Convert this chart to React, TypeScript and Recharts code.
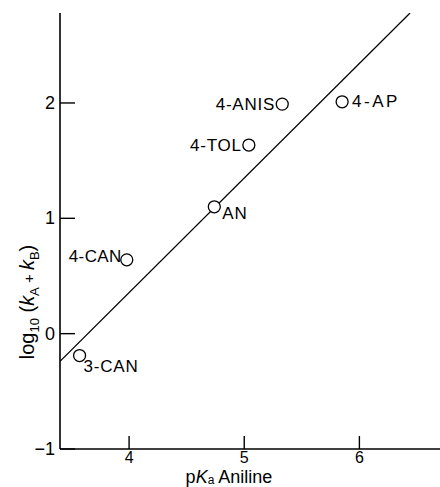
import React from 'react';
import { ComposedChart, XAxis, YAxis, Line, Scatter } from 'recharts';

const compounds = ['4-AP', '4-ANIS', '4-TOL', 'AN', '4-CAN', '3-CAN'];
const pKa = [5.85, 5.33, 5.04, 4.74, 3.98, 3.57];
const logK = [2.01, 1.99, 1.635, 1.1, 0.64, -0.19];
const fitPKa = [3.4, 6.44];
const fitLogK = [-0.24, 2.78];
const xTicks = [4, 5, 6];
const yTicks = [-1, 0, 1, 2];

const points = compounds.map((name, i) => ({ name, x: pKa[i], y: logK[i] }));
const fitLine = fitPKa.map((x, i) => ({ x, y: fitLogK[i] }));

const labelPlacement: Record<string, { dx: number; dy: number; anchor: 'start' | 'end'; ls: number }> = {
  '4-AP': { dx: 10, dy: 0, anchor: 'start', ls: 2.5 },
  '4-ANIS': { dx: -7, dy: 0, anchor: 'end', ls: 0.8 },
  '4-TOL': { dx: -7, dy: 0, anchor: 'end', ls: 0.8 },
  AN: { dx: 8, dy: 7, anchor: 'start', ls: 0.8 },
  '4-CAN': { dx: -5, dy: -3, anchor: 'end', ls: 0.4 },
  '3-CAN': { dx: 4, dy: 11, anchor: 'start', ls: 0.8 },
};

const FONT = '"Liberation Sans", Arial, sans-serif';

const XTick = (props: any) => {
  const { x, y, payload } = props;
  return (
    <g>
      <line x1={x} x2={x} y1={y} y2={y - 13} stroke="#000" strokeWidth={1.4} />
      <text x={x} y={y + 14} textAnchor="middle" fontSize={16} fontFamily={FONT} fill="#000">
        {payload.value}
      </text>
    </g>
  );
};

const YTick = (props: any) => {
  const { x, y, payload } = props;
  const v = payload.value;
  return (
    <g>
      <line x1={x} x2={x + 15} y1={y} y2={y} stroke="#000" strokeWidth={1.4} />
      <text x={x - 5} y={y} textAnchor="end" dominantBaseline="central" fontSize={18} fontFamily={FONT} fill="#000">
        {v < 0 ? '\u2212' + Math.abs(v) : String(v)}
      </text>
    </g>
  );
};

const PointShape = (props: any) => {
  const { cx, cy, payload } = props;
  const p = labelPlacement[payload.name];
  return (
    <g>
      <circle cx={cx} cy={cy} r={6} fill="#fff" stroke="#000" strokeWidth={1.3} />
      <text
        x={cx + p.dx}
        y={cy + p.dy}
        textAnchor={p.anchor}
        dominantBaseline="central"
        fontSize={17}
        fontFamily={FONT}
        letterSpacing={p.ls}
        fill="#000"
      >
        {payload.name}
      </text>
    </g>
  );
};

const YLabel = () => (
  <text transform="translate(34,302) rotate(-90)" textAnchor="middle" fontSize={20} fontFamily={FONT} fill="#000">
    log
    <tspan fontSize={13} dy={5}>10</tspan>
    <tspan dy={-5}> (</tspan>
    <tspan fontStyle="italic">k</tspan>
    <tspan fontSize={13} dy={5}>A</tspan>
    <tspan dy={-5} fontSize={15}> + </tspan>
    <tspan fontStyle="italic">k</tspan>
    <tspan fontSize={13} dy={5}>B</tspan>
    <tspan dy={-5}>)</tspan>
  </text>
);

const XLabel = () => (
  <text x={229} y={483} textAnchor="middle" fontSize={18} fontFamily={FONT} fill="#000">
    p<tspan fontStyle="italic">K</tspan>
    <tspan fontSize={12} dy={1}>a</tspan>
    <tspan dy={-1}>{'  Aniline'}</tspan>
  </text>
);

export default function App() {
  return (
    <div style={{ position: 'absolute', left: 0, top: 0, background: '#fff' }}>
      <ComposedChart width={440} height={487} margin={{ top: 13, right: 0, bottom: 0, left: 0 }}>
        <XAxis
          type="number"
          dataKey="x"
          domain={[3.4, 6.7]}
          ticks={xTicks}
          allowDataOverflow
          height={38}
          tickSize={0}
          tickMargin={0}
          tickLine={false}
          axisLine={{ stroke: '#000', strokeWidth: 1.6 }}
          tick={<XTick />}
          label={{ content: () => <XLabel /> }}
        />
        <YAxis
          type="number"
          domain={[-1, 2.78]}
          ticks={yTicks}
          allowDataOverflow
          width={60}
          tickSize={0}
          tickMargin={0}
          tickLine={false}
          axisLine={{ stroke: '#000', strokeWidth: 1.6 }}
          tick={<YTick />}
          label={{ content: () => <YLabel /> }}
        />
        <Line
          data={fitLine}
          dataKey="y"
          type="linear"
          stroke="#000"
          strokeWidth={1.3}
          dot={false}
          activeDot={false}
          isAnimationActive={false}
        />
        <Scatter data={points} dataKey="y" shape={<PointShape />} isAnimationActive={false} />
      </ComposedChart>
    </div>
  );
}
